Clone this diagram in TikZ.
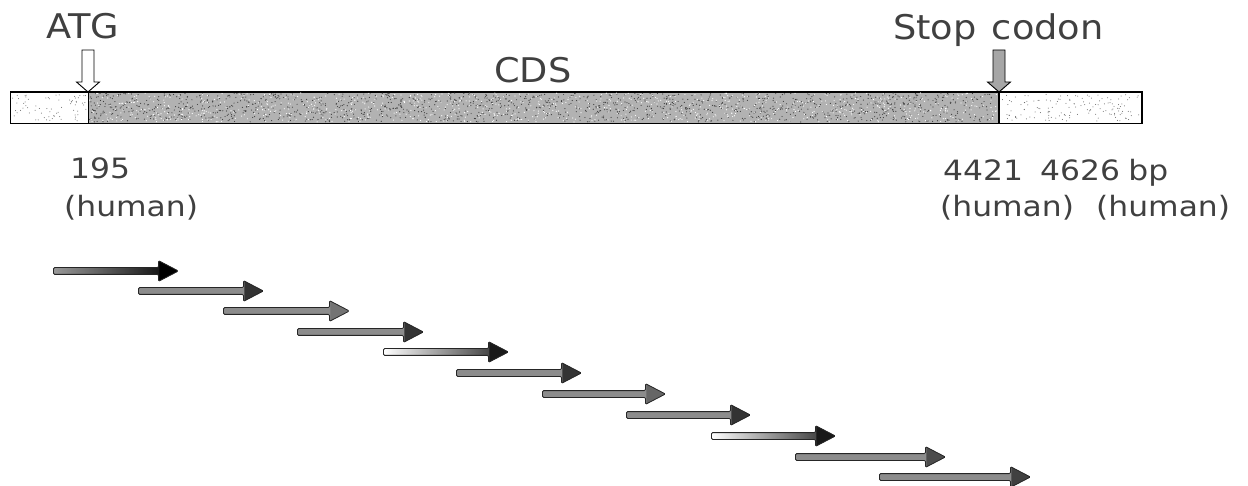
\documentclass[tikz,border=0pt]{standalone}
\usepackage{fontspec}
\setmainfont{DejaVu Sans}[FakeStretch=1.08]
\newfontfamily\numfont{DejaVu Sans}[FakeStretch=1.12]
\usetikzlibrary{shapes.arrows}

\tikzset{
  lbl/.style={inner sep=0pt, anchor=base west, text=black!75, font=\fontsize{34}{36}\selectfont},
  num/.style={inner sep=0pt, anchor=base west, text=black!75, font=\numfont\fontsize{28}{30}\selectfont},
  utr/.style={draw=black, line width=1pt, fill=white, inner sep=0pt, minimum height=31pt, anchor=north west},
  cdsbox/.style={draw=black, line width=1pt, fill=black!30, inner sep=0pt, minimum height=31pt, anchor=north west},
  marker/.style={draw=black, line width=0.9pt, line join=miter},
  frag/.style={single arrow, draw=black!85, line width=0.8pt, minimum width=20pt,
    single arrow head extend=7pt, single arrow tip angle=55, inner xsep=0pt, inner ysep=3pt,
    anchor=west, rounded corners=1.2pt},
  head/.style={path picture={\fill[#1] ([xshift=-19pt]path picture bounding box.north east)
    rectangle (path picture bounding box.south east);}},
  plain/.style={fill=black!45},
  fade/.style={left color=white, right color=black!85},
}

\begin{document}
\begin{tikzpicture}[x=1pt, y=-1pt]
\useasboundingbox (0,0) rectangle (1248,486);
\pgfmathsetseed{11}

% transcript bar: 5' UTR, coding sequence, 3' UTR
\node[utr, minimum width=78pt] (utr5) at (10,92) {};
\node[cdsbox, minimum width=910pt] (cdsbar) at (88,92) {};
\node[utr, minimum width=143pt] (utr3) at (998,92) {};

% stippled texture of the bar
\foreach \i in {1,...,1500}{\fill[black!75] (89+908*rnd, 93+29*rnd) circle (0.6pt);}
\foreach \i in {1,...,900}{\fill[white] (89+908*rnd, 93+29*rnd) circle (0.6pt);}
\foreach \i in {1,...,70}{\fill[black!60] (12+74*rnd, 94+27*rnd) circle (0.5pt);}
\foreach \i in {1,...,140}{\fill[black!60] (1000+139*rnd, 94+27*rnd) circle (0.5pt);}
\draw[line width=1pt] (utr5.north west) rectangle (utr3.south east);
\draw[line width=1pt] (cdsbar.north west) -- (cdsbar.south west)
                      (cdsbar.north east) -- (cdsbar.south east);

% start and stop markers (block arrows pointing at the bar)
\coordinate (atgtip) at (cdsbar.north west);
\coordinate (stoptip) at (cdsbar.north east);
\draw[marker, fill=white] (atgtip) -- ++(-11.5,-10) -- ++(5.5,0) -- ++(0,-32)
  -- ++(12,0) -- ++(0,32) -- ++(5.5,0) -- cycle;
\draw[marker, fill=black!35] (stoptip) -- ++(-11.5,-10) -- ++(5.5,0) -- ++(0,-32)
  -- ++(12,0) -- ++(0,32) -- ++(5.5,0) -- cycle;

% labels
\node[lbl] (atg) at (46,39) {ATG};
\node[lbl] (stop) at (893,40) {Stop\hspace{0.45em}codon};
\node[lbl] (cds) at (494,83) {CDS};

\node[num] (p195) at (70,179) {195};
\node[num] (h195) at (64,217) {(human)};
\node[num] (p4421) at (943,181) {4421};
\node[num] (h4421) at (940,217) {(human)};
\node[num] (p4626) at (1040,181) {4626\hspace{0.3em}bp};
\node[num] (h4626) at (1096,217) {(human)};

% overlapping fragments
\node[frag, minimum height=125pt, left color=black!40, right color=black, head=black] (f1) at (53,271) {};
\node[frag, minimum height=125pt, plain, head=black!80] (f2) at (138,291) {};
\node[frag, minimum height=126pt, plain, head=black!55] (f3) at (223,311) {};
\node[frag, minimum height=126pt, plain, head=black!80] (f4) at (297,332) {};
\node[frag, minimum height=125pt, fade, head=black!90] (f5) at (383,352) {};
\node[frag, minimum height=125pt, plain, head=black!80] (f6) at (456,373) {};
\node[frag, minimum height=123pt, plain, head=black!60] (f7) at (542,394) {};
\node[frag, minimum height=124pt, plain, head=black!80] (f8) at (626,415) {};
\node[frag, minimum height=124pt, fade, head=black!90] (f9) at (711,436) {};
\node[frag, minimum height=150pt, plain, head=black!70] (f10) at (795,457) {};
\node[frag, minimum height=151pt, plain, head=black!75] (f11) at (879,477) {};
\end{tikzpicture}
\end{document}
